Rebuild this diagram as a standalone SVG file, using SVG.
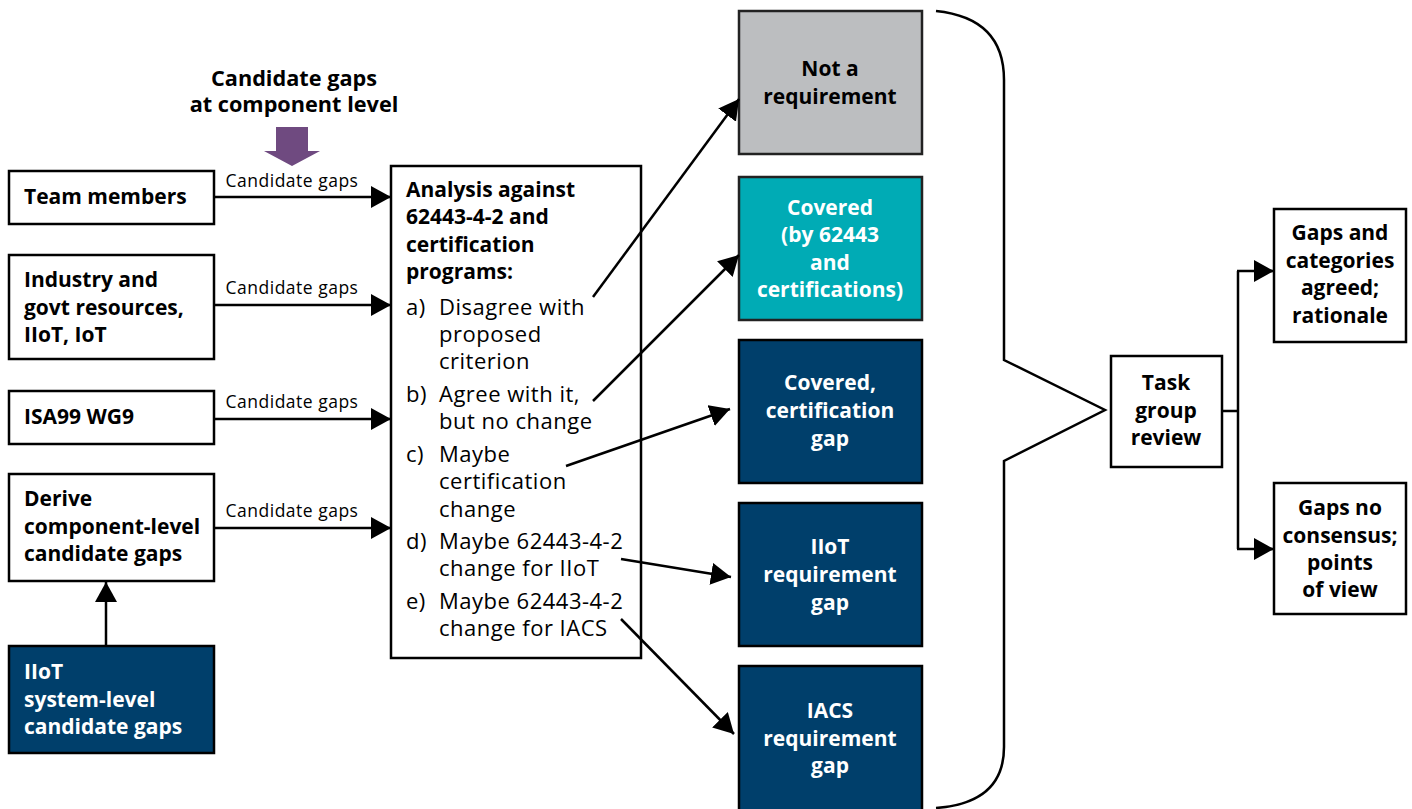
<svg xmlns="http://www.w3.org/2000/svg" width="1412" height="809" viewBox="0 0 1412 809">
<defs>
<style>
.box{fill:#fff;stroke:#000;stroke-width:2.5}
.navy{fill:#003f6b;stroke:#000;stroke-width:2.5}
.gray{fill:#bcbec0;stroke:#222;stroke-width:2.5}
.teal{fill:#00abb5;stroke:#222;stroke-width:2.5}
.b{font-family:"Open Sans","Noto Sans",sans-serif;font-weight:bold;font-size:21px;fill:#000}
.t{font-size:21.7px}
.w{fill:#fff}
.n{font-family:"Open Sans","Noto Sans",sans-serif;font-size:22px;letter-spacing:0.5px;fill:#000}
.s{font-family:"Open Sans","Noto Sans",sans-serif;font-size:17.5px;letter-spacing:0.5px;fill:#000}
.c{text-anchor:middle}
.ln{fill:none;stroke:#000;stroke-width:2.5}
</style>
<marker id="ah" markerUnits="userSpaceOnUse" markerWidth="22" markerHeight="24" refX="20" refY="11" orient="auto">
<path d="M0,0 L20,11 L0,22 Z" fill="#000"/>
</marker>
</defs>

<g id="title">
<text class="b t c" x="294" y="86">Candidate gaps</text>
<text class="b t c" x="294" y="112">at component level</text>
<path d="M276,127 H308 V151 H320 L292,166 L264,151 H276 Z" fill="#6f4a80"/>
</g>

<g id="team">
<rect class="box" x="9" y="171" width="205" height="53"/>
<text class="b" x="24" y="204">Team members</text>
</g>
<g id="industry">
<rect class="box" x="9" y="255" width="205" height="104"/>
<text class="b" x="24" y="287">Industry and</text>
<text class="b" x="24" y="315">govt resources,</text>
<text class="b" x="24" y="342">IIoT, IoT</text>
</g>
<g id="isa">
<rect class="box" x="9" y="391" width="205" height="53"/>
<text class="b" x="24" y="424">ISA99 WG9</text>
</g>
<g id="derive">
<rect class="box" x="9" y="474" width="205" height="107"/>
<text class="b" x="24" y="506">Derive</text>
<text class="b" x="24" y="534">component-level</text>
<text class="b" x="24" y="561">candidate gaps</text>
</g>
<g id="iiot-system">
<rect class="navy" x="9" y="646" width="205" height="107"/>
<text class="b w" x="24" y="679">IIoT</text>
<text class="b w" x="24" y="707">system-level</text>
<text class="b w" x="24" y="734">candidate gaps</text>
</g>

<g id="analysis">
<rect class="box" x="391" y="166" width="250" height="492"/>
<text class="b" x="406" y="197">Analysis against</text>
<text class="b" x="406" y="224">62443-4-2 and</text>
<text class="b" x="406" y="252">certification</text>
<text class="b" x="406" y="279">programs:</text>
<text class="n" x="406" y="315">a)</text><text class="n" x="439" y="315">Disagree with</text>
<text class="n" x="439" y="342">proposed</text>
<text class="n" x="439" y="369">criterion</text>
<text class="n" x="406" y="402">b)</text><text class="n" x="439" y="402">Agree with it,</text>
<text class="n" x="439" y="429">but no change</text>
<text class="n" x="406" y="462">c)</text><text class="n" x="439" y="462">Maybe</text>
<text class="n" x="439" y="489">certification</text>
<text class="n" x="439" y="517">change</text>
<text class="n" x="406" y="549">d)</text><text class="n" x="439" y="549">Maybe 62443-4-2</text>
<text class="n" x="439" y="576">change for IIoT</text>
<text class="n" x="406" y="609">e)</text><text class="n" x="439" y="609">Maybe 62443-4-2</text>
<text class="n" x="439" y="636">change for IACS</text>
</g>

<g id="not-req">
<rect class="gray" x="739" y="11" width="183" height="143"/>
<text class="b c" x="830" y="76">Not a</text>
<text class="b c" x="830" y="104">requirement</text>
</g>
<g id="covered">
<rect class="teal" x="739" y="177" width="183" height="143"/>
<text class="b c w" x="830" y="215">Covered</text>
<text class="b c w" x="830" y="242">(by 62443</text>
<text class="b c w" x="830" y="270">and</text>
<text class="b c w" x="830" y="297">certifications)</text>
</g>
<g id="cert-gap">
<rect class="navy" x="739" y="340" width="183" height="143"/>
<text class="b c w" x="830" y="390">Covered,</text>
<text class="b c w" x="830" y="418">certification</text>
<text class="b c w" x="830" y="446">gap</text>
</g>
<g id="iiot-gap">
<rect class="navy" x="739" y="503" width="183" height="143"/>
<text class="b c w" x="830" y="554">IIoT</text>
<text class="b c w" x="830" y="582">requirement</text>
<text class="b c w" x="830" y="610">gap</text>
</g>
<g id="iacs-gap">
<rect class="navy" x="739" y="666" width="183" height="145"/>
<text class="b c w" x="830" y="718">IACS</text>
<text class="b c w" x="830" y="746">requirement</text>
<text class="b c w" x="830" y="773">gap</text>
</g>

<g id="brace">
<path class="ln" d="M936,11 Q1004,18 1004,80 V360 L1105,410 L1004,461 V747 Q1004,803 936,808"/>
</g>

<g id="task">
<rect class="box" x="1111" y="356" width="111" height="111"/>
<text class="b c" x="1166" y="390">Task</text>
<text class="b c" x="1166" y="418">group</text>
<text class="b c" x="1166" y="445">review</text>
</g>
<g id="agreed">
<rect class="box" x="1274" y="209" width="132" height="133"/>
<text class="b c" x="1340" y="240">Gaps and</text>
<text class="b c" x="1340" y="268">categories</text>
<text class="b c" x="1340" y="295">agreed;</text>
<text class="b c" x="1340" y="323">rationale</text>
</g>
<g id="noconsensus">
<rect class="box" x="1274" y="483" width="132" height="131"/>
<text class="b c" x="1340" y="515">Gaps no</text>
<text class="b c" x="1340" y="543">consensus;</text>
<text class="b c" x="1340" y="570">points</text>
<text class="b c" x="1340" y="597">of view</text>
</g>

<g id="connectors">
<line class="ln" x1="214" y1="197" x2="391" y2="197" marker-end="url(#ah)"/>
<line class="ln" x1="214" y1="305" x2="391" y2="305" marker-end="url(#ah)"/>
<line class="ln" x1="214" y1="419" x2="391" y2="419" marker-end="url(#ah)"/>
<line class="ln" x1="214" y1="528" x2="391" y2="528" marker-end="url(#ah)"/>
<text class="s" x="292" y="187" text-anchor="middle">Candidate gaps</text>
<text class="s" x="292" y="294" text-anchor="middle">Candidate gaps</text>
<text class="s" x="292" y="408" text-anchor="middle">Candidate gaps</text>
<text class="s" x="292" y="517" text-anchor="middle">Candidate gaps</text>
<line class="ln" x1="106" y1="646" x2="106" y2="582" marker-end="url(#ah)"/>
<line class="ln" x1="593" y1="297" x2="739" y2="99" marker-end="url(#ah)"/>
<line class="ln" x1="593" y1="401" x2="739" y2="255" marker-end="url(#ah)"/>
<line class="ln" x1="566" y1="466" x2="730" y2="409" marker-end="url(#ah)"/>
<line class="ln" x1="621" y1="559" x2="731" y2="577" marker-end="url(#ah)"/>
<line class="ln" x1="621" y1="619" x2="734" y2="734" marker-end="url(#ah)"/>
<path class="ln" d="M1222,411 H1238 M1238,271 V549"/>
<line class="ln" x1="1237" y1="271" x2="1274" y2="271" marker-end="url(#ah)"/>
<line class="ln" x1="1237" y1="549" x2="1274" y2="549" marker-end="url(#ah)"/>
</g>
</svg>
